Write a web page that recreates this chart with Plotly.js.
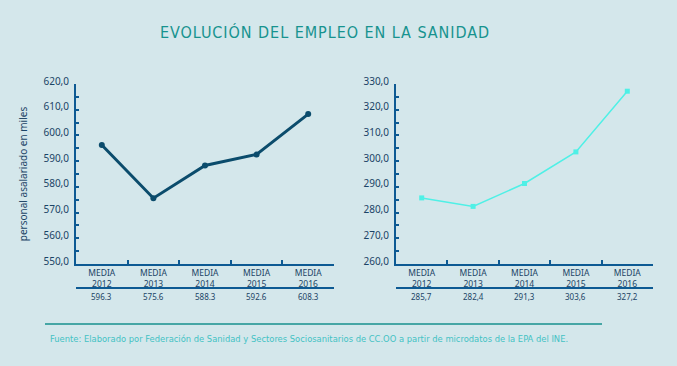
<!DOCTYPE html>
<html><head><meta charset="utf-8">
<script src="https://cdn.plot.ly/plotly-3.0.1.min.js"></script>
<style>html,body{margin:0;padding:0;background:#d4e7eb;}#c{width:677px;height:366px;}</style>
</head><body><div id="c"></div>
<script>
const categories = ["MEDIA<br>2012","MEDIA<br>2013","MEDIA<br>2014","MEDIA<br>2015","MEDIA<br>2016"];
const totalValues = [596.3, 575.6, 588.3, 592.6, 608.3];
const totalLabels = ["596.3","575.6","588.3","592.6","608.3"];
const secondValues = [285.7, 282.4, 291.3, 303.6, 327.2];
const secondLabels = ["285,7","282,4","291,3","303,6","327,2"];
const titleText = "EVOLUCIÓN DEL EMPLEO EN LA SANIDAD";
const yTitle = "personal asalariado en miles";
const sourceText = "Fuente: Elaborado por Federación de Sanidad y Sectores Sociosanitarios de CC.OO a partir de microdatos de la EPA del INE.";

const W = 677, H = 366;
const axisColor = "#0d5a93";
const textColor = "#1b4466";
const px = v => v / W;
const py = v => (H - v) / H;

const traces = [
  {x: categories, y: totalValues, type: "scatter", mode: "lines+markers", xaxis: "x", yaxis: "y",
   line: {color: "#0b4c6c", width: 3}, marker: {color: "#0b4c6c", size: 6}, hoverinfo: "none"},
  {x: categories, y: secondValues, type: "scatter", mode: "lines+markers", xaxis: "x2", yaxis: "y2",
   line: {color: "#4ff0e6", width: 1.5}, marker: {color: "#4ff0e6", size: 5, symbol: "square"}, hoverinfo: "none"}
];

function xa(dom, anchor) {
  return {domain: dom, anchor: anchor, type: "category", range: [-0.5, 4.5],
    showline: true, linecolor: axisColor, linewidth: 2, mirror: false,
    ticks: "inside", ticklen: 4, tickwidth: 2, tickcolor: axisColor, tickson: "boundaries",
    showgrid: false, zeroline: false,
    tickfont: {family: "Noto Sans, sans-serif", size: 8.5, color: textColor}, fixedrange: true};
}
function ya(dom, anchor, r) {
  return {domain: dom, anchor: anchor, range: r, dtick: 10, tick0: r[0], tickformat: ".1f",
    showline: true, linecolor: axisColor, linewidth: 2,
    ticks: "inside", ticklen: 3, tickwidth: 2, tickcolor: axisColor,
    minor: {dtick: 5, tick0: r[0], ticks: "inside", ticklen: 3, tickwidth: 2, tickcolor: axisColor, showgrid: false},
    showgrid: false, zeroline: false, ticklabelshift: -3, ticklabelstandoff: 3,
    tickfont: {family: "Noto Sans, sans-serif", size: 10, color: textColor}, fixedrange: true};
}

const yDom = [py(264), py(84)];
const layout = {
  width: W, height: H, margin: {l: 0, r: 0, t: 0, b: 0},
  paper_bgcolor: "#d4e7eb", plot_bgcolor: "rgba(0,0,0,0)",
  separators: ",.", showlegend: false,
  title: {text: titleText, x: px(325), xanchor: "center", y: py(32), yanchor: "middle",
    font: {family: "DejaVu Sans Condensed, sans-serif", size: 16, color: "#17938f"}},
  xaxis: xa([px(76), px(334)], "y"),
  yaxis: Object.assign(ya(yDom, "x", [550, 620]), {
    title: {text: yTitle, standoff: 14, font: {family: "Noto Sans, sans-serif", size: 10, color: textColor}}}),
  xaxis2: xa([px(396), px(653)], "y2"),
  yaxis2: ya(yDom, "x2", [260, 330]),
  shapes: [
    {type: "line", xref: "x domain", yref: "paper", x0: 0, x1: 1, y0: py(288), y1: py(288), line: {color: axisColor, width: 2}},
    {type: "line", xref: "x2 domain", yref: "paper", x0: 0, x1: 1, y0: py(288), y1: py(288), line: {color: axisColor, width: 2}},
    {type: "line", xref: "paper", yref: "paper", x0: px(45), x1: px(602), y0: py(324), y1: py(324), line: {color: "#17918e", width: 1.5}}
  ],
  annotations: [
    {text: sourceText, xref: "paper", yref: "paper", x: px(48), y: py(338), xanchor: "left", yanchor: "middle", showarrow: false,
     font: {family: "DejaVu Sans Condensed, sans-serif", size: 9.3, color: "#43c2c4"}}
  ]
};
totalLabels.forEach((t, i) => layout.annotations.push({text: t, xref: "x", yref: "paper", x: categories[i], y: py(296),
  yanchor: "middle", showarrow: false, font: {family: "Noto Sans, sans-serif", size: 8, color: textColor}}));
secondLabels.forEach((t, i) => layout.annotations.push({text: t, xref: "x2", yref: "paper", x: categories[i], y: py(296),
  yanchor: "middle", showarrow: false, font: {family: "Noto Sans, sans-serif", size: 8, color: textColor}}));

Plotly.newPlot("c", traces, layout, {staticPlot: true, displayModeBar: false}).then(() => {
  const t = document.querySelector(".gtitle");
  if (t) t.style.letterSpacing = "0.95px";
});
</script></body></html>
